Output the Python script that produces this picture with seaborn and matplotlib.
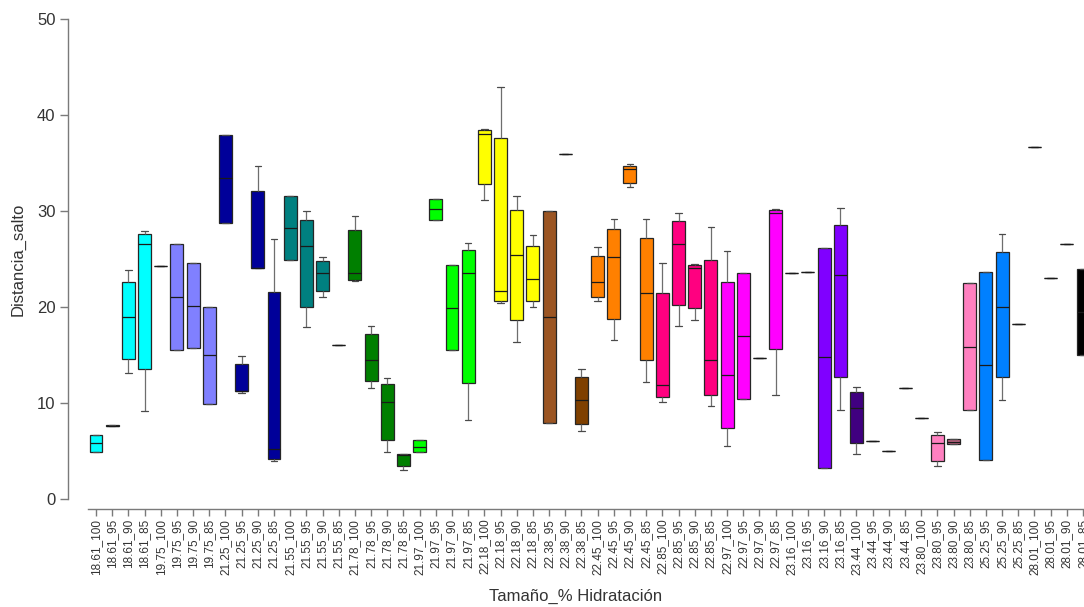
import numpy as np
import pandas as pd
import matplotlib
matplotlib.use("Agg")
import matplotlib.pyplot as plt
import seaborn as sns

# Groups: seed size _ % hydration
categories = [
    "18.61_100", "18.61_95", "18.61_90", "18.61_85",
    "19.75_100", "19.75_95", "19.75_90", "19.75_85",
    "21.25_100", "21.25_95", "21.25_90", "21.25_85",
    "21.55_100", "21.55_95", "21.55_90", "21.55_85",
    "21.78_100", "21.78_95", "21.78_90", "21.78_85",
    "21.97_100", "21.97_95", "21.97_90", "21.97_85",
    "22.18_100", "22.18_95", "22.18_90", "22.18_85",
    "22.38_95", "22.38_90", "22.38_85",
    "22.45_100", "22.45_95", "22.45_90", "22.45_85",
    "22.85_100", "22.85_95", "22.85_90", "22.85_85",
    "22.97_100", "22.97_95", "22.97_90", "22.97_85",
    "23.16_100", "23.16_95", "23.16_90", "23.16_85",
    "23.44_100", "23.44_95", "23.44_90", "23.44_85",
    "23.80_100", "23.80_95", "23.80_90", "23.80_85",
    "25.25_95", "25.25_90", "25.25_85",
    "28.01_100", "28.01_95", "28.01_90", "28.01_85",
]

# Five-number summaries of Distancia_salto for each group
lower = [
    4.93, 7.60, 13.10, 9.17,
    24.30, 15.49, 15.70, 9.93,
    28.70, 11.07, 24.03, 4.00,
    24.90, 17.95, 21.07, 16.07,
    22.70, 11.60, 4.86, 3.00,
    4.86, 29.10, 15.50, 8.23,
    31.15, 20.40, 16.40, 19.97,
    7.90, 35.90, 7.05,
    20.60, 16.56, 32.50, 12.15,
    10.14, 18.05, 18.60, 9.69,
    5.56, 10.45, 14.69, 10.87,
    23.58, 23.68, 3.23, 9.27,
    4.65, 6.04, 4.96, 11.56,
    8.47, 3.44, 5.76, 9.24,
    4.10, 10.28, 18.26,
    36.63, 22.99, 26.60, 14.97,
]
q1 = [
    4.93, 7.60, 14.55, 13.50,
    24.30, 15.49, 15.70, 9.93,
    28.70, 11.25, 24.03, 4.20,
    24.90, 20.03, 21.67, 16.07,
    22.80, 12.30, 6.15, 3.40,
    4.86, 29.10, 15.50, 12.05,
    32.80, 20.66, 18.60, 20.66,
    7.90, 35.90, 7.85,
    21.07, 18.72, 32.95, 14.48,
    10.59, 20.20, 19.93, 10.87,
    7.40, 10.45, 14.69, 15.60,
    23.58, 23.68, 3.23, 12.74,
    5.87, 6.04, 4.96, 11.56,
    8.47, 3.96, 5.76, 9.24,
    4.10, 12.70, 18.26,
    36.63, 22.99, 26.60, 14.97,
]
median = [
    5.86, 7.65, 19.00, 26.56,
    24.30, 21.00, 20.14, 15.00,
    33.47, 11.30, 24.10, 5.20,
    28.26, 26.40, 23.50, 16.07,
    23.50, 14.48, 10.07, 4.60,
    5.45, 30.20, 19.93, 23.58,
    38.00, 21.67, 25.40, 22.90,
    18.96, 35.90, 10.28,
    22.64, 25.24, 34.40, 21.42,
    11.87, 26.60, 24.10, 14.48,
    12.95, 16.98, 14.69, 29.76,
    23.58, 23.68, 14.76, 23.30,
    9.44, 6.04, 4.96, 11.56,
    8.47, 5.80, 5.95, 15.87,
    13.92, 19.97, 18.26,
    36.63, 22.99, 26.60, 19.50,
]
q3 = [
    6.67, 7.70, 22.60, 27.57,
    24.30, 26.56, 24.58, 20.03,
    37.95, 14.10, 32.10, 21.53,
    31.60, 29.10, 24.76, 16.07,
    28.02, 17.15, 12.00, 4.69,
    6.15, 31.20, 24.40, 25.90,
    38.40, 37.60, 30.07, 26.35,
    30.03, 35.90, 12.74,
    25.30, 28.16, 34.70, 27.22,
    21.42, 29.00, 24.40, 24.86,
    22.57, 23.50, 14.69, 30.10,
    23.58, 23.68, 26.18, 28.54,
    11.11, 6.04, 4.96, 11.56,
    8.47, 6.67, 6.20, 22.50,
    23.68, 25.70, 18.26,
    36.63, 22.99, 26.60, 23.96,
]
upper = [
    6.67, 7.70, 23.85, 27.90,
    24.30, 26.56, 24.58, 20.03,
    37.95, 14.90, 34.70, 27.05,
    31.60, 30.00, 25.24, 16.07,
    29.50, 18.00, 12.64, 4.69,
    6.15, 31.20, 24.40, 26.70,
    38.50, 42.90, 31.60, 27.50,
    30.03, 35.90, 13.58,
    26.20, 29.13, 34.85, 29.13,
    24.60, 29.83, 24.50, 28.37,
    25.83, 23.50, 14.69, 30.20,
    23.58, 23.68, 26.18, 30.35,
    11.67, 6.04, 4.96, 11.56,
    8.47, 6.98, 6.20, 22.50,
    23.68, 27.60, 18.26,
    36.63, 22.99, 26.60, 23.96,
]

# One fill colour per size class
size_colors = {
    "18.61": "#00FFFF", "19.75": "#8080FF", "21.25": "#000099",
    "21.55": "#008080", "21.78": "#007F00", "21.97": "#00FF00",
    "22.18": "#FFFF00", "22.38": "#9B5523", "22.45": "#FF8000",
    "22.85": "#FF0080", "22.97": "#FF00FF", "23.16": "#8000FF",
    "23.44": "#400080", "23.80": "#FF80C0", "25.25": "#0080FF",
    "28.01": "#000000",
}
special_colors = {"22.38_85": "#7F4000", "23.80_90": "#B8607E"}
palette = {c: special_colors.get(c, size_colors[c.split("_")[0]]) for c in categories}

rows = []
for cat, summary in zip(categories, zip(lower, q1, median, q3, upper)):
    for v in summary:
        rows.append((cat, v))
df = pd.DataFrame(rows, columns=["grupo", "Distancia_salto"])

sns.set_style("ticks")
plt.rcParams["font.family"] = ["Liberation Sans", "DejaVu Sans"]

W, H = 1084, 607
fig = plt.figure(figsize=(W / 100, H / 100), dpi=100)
ax = fig.add_axes([68 / W, 98 / H, (W - 68) / W, 499 / H])

sns.boxplot(
    data=df, x="grupo", y="Distancia_salto", hue="grupo",
    order=categories, hue_order=categories, palette=palette,
    saturation=1, width=0.8, whis=(0, 100), fliersize=0,
    linecolor="#262626", linewidth=0.9, legend=False, ax=ax,
    whiskerprops={"color": "#6e6e6e", "linewidth": 0.9},
    capprops={"color": "#4a4a4a", "linewidth": 0.9},
    medianprops={"color": "#1a1a1a", "linewidth": 0.9},
)

ax.set_xlim(-1.73, 61.06)
ax.set_ylim(-10 / 9.6, 489 / 9.6)
ax.set_yticks([0, 10, 20, 30, 40, 50])

for side in ("top", "right"):
    ax.spines[side].set_visible(False)
ax.spines["left"].set_bounds(0, 50)
ax.spines["bottom"].set_bounds(-0.5, 61.5)
for side in ("left", "bottom"):
    ax.spines[side].set_color("#7a7a7a")
    ax.spines[side].set_linewidth(1.0)

ax.tick_params(axis="y", length=6, width=1.0, color="#7a7a7a",
               labelsize=12, labelcolor="#333333", pad=3)
ax.tick_params(axis="x", length=5, width=1.0, color="#7a7a7a",
               labelsize=8.5, labelcolor="#333333", pad=2, labelrotation=90)

ax.set_xlabel("Tamaño_% Hidratación", fontsize=12, color="#333333")
ax.set_ylabel("Distancia_salto", fontsize=12, color="#333333")
ax.xaxis.set_label_coords((576 - 68) / (W - 68), -(596 - 509) / 499)
ax.yaxis.set_label_coords(-(68 - 18) / (W - 68), 0.5)
ax.xaxis.label.set_va("center")
ax.yaxis.label.set_va("center")

fig.savefig("out.png", dpi=100)
